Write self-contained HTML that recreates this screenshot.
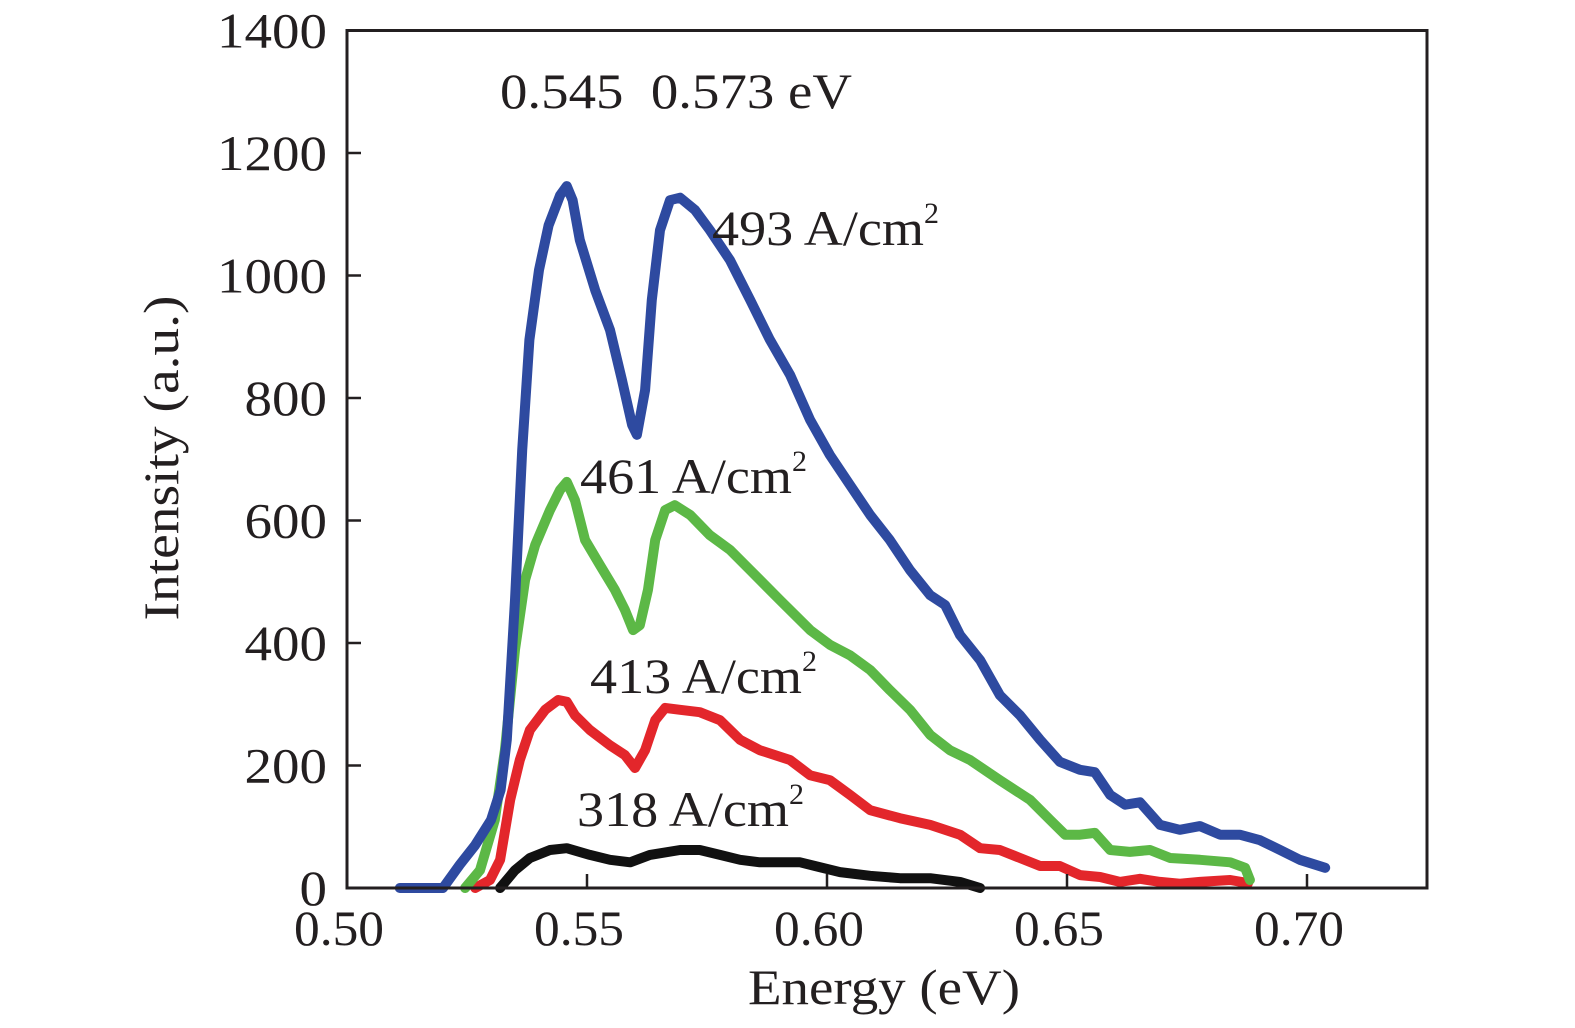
<!DOCTYPE html>
<html><head><meta charset="utf-8"><style>
html,body{margin:0;padding:0;background:#fff;}
svg{display:block;font-family:"Liberation Serif",serif;}
</style></head><body>
<svg id="chart" width="1575" height="1028" viewBox="0 0 1575 1028">
<g id="series"></g>
<rect x="347" y="30.5" width="1080" height="857.5" fill="none" stroke="#231f20" stroke-width="3"/>
<g id="axes"></g>
<text x="178" y="458" font-size="50" text-anchor="middle" textLength="325" lengthAdjust="spacingAndGlyphs" transform="rotate(-90 178 458)" fill="#231f20">Intensity (a.u.)</text>
<text x="884" y="1004" font-size="50" text-anchor="middle" textLength="272" lengthAdjust="spacingAndGlyphs" fill="#231f20">Energy (eV)</text>
<text x="500" y="108" font-size="50" textLength="352" lengthAdjust="spacingAndGlyphs" xml:space="preserve" fill="#231f20">0.545  0.573 eV</text>
<text x="712" y="245" font-size="50" fill="#231f20"><tspan textLength="212" lengthAdjust="spacingAndGlyphs">493 A/cm</tspan><tspan font-size="30" dy="-22">2</tspan></text>
<text x="580" y="493" font-size="50" fill="#231f20"><tspan textLength="212" lengthAdjust="spacingAndGlyphs">461 A/cm</tspan><tspan font-size="30" dy="-22">2</tspan></text>
<text x="590" y="693" font-size="50" fill="#231f20"><tspan textLength="212" lengthAdjust="spacingAndGlyphs">413 A/cm</tspan><tspan font-size="30" dy="-22">2</tspan></text>
<text x="577" y="826" font-size="50" fill="#231f20"><tspan textLength="212" lengthAdjust="spacingAndGlyphs">318 A/cm</tspan><tspan font-size="30" dy="-22">2</tspan></text>
</svg>
<script>
const xTicks=[0.50,0.55,0.60,0.65,0.70];
const xTickLabels=["0.50","0.55","0.60","0.65","0.70"];
const yTicks=[0,200,400,600,800,1000,1200,1400];
const yTickLabels=["0","200","400","600","800","1000","1200","1400"];
const blueE=[0.511,0.520,0.5235,0.5267,0.530,0.532,0.5333,0.535,0.5365,0.538,0.540,0.542,0.5444,0.5458,0.547,0.5485,0.5517,0.5548,0.5573,0.5594,0.5604,0.5621,0.5635,0.5652,0.5673,0.5694,0.5725,0.5756,0.5798,0.584,0.5881,0.5923,0.5965,0.6006,0.6048,0.609,0.6131,0.6173,0.6215,0.6246,0.6277,0.6319,0.636,0.6402,0.6444,0.6485,0.6527,0.6558,0.659,0.6621,0.6652,0.6694,0.6735,0.6777,0.6819,0.686,0.6902,0.6944,0.6985,0.7038];
const blueI=[0,0,38,70,111,160,242,470,715,895,1009,1082,1131,1146,1123,1058,976,911,829,756,740,813,960,1074,1123,1127,1107,1074,1025,960,895,838,764,707,658,609,568,519,478,462,413,372,315,282,242,206,193,189,152,136,140,103,95,101,87,87,78,62,46,33];
const greenE=[0.5246,0.5277,0.5308,0.5329,0.535,0.5371,0.5392,0.5423,0.5444,0.5458,0.5475,0.5496,0.5527,0.5558,0.5579,0.5596,0.561,0.5627,0.5642,0.5663,0.5683,0.5715,0.5756,0.5798,0.584,0.5902,0.5965,0.6006,0.6048,0.609,0.6131,0.6173,0.6215,0.6256,0.6298,0.636,0.6423,0.6465,0.6496,0.6527,0.6558,0.659,0.6631,0.6673,0.6715,0.6777,0.684,0.6871,0.6881];
const greenI=[0,29,111,225,389,503,560,617,650,663,633,568,527,487,454,421,429,487,568,617,625,609,576,552,519,470,421,397,380,356,323,291,250,225,209,176,144,111,87,87,90,62,59,62,49,46,42,33,13];
const redE=[0.5267,0.5298,0.5319,0.534,0.536,0.5381,0.5413,0.544,0.5458,0.5475,0.5506,0.5548,0.5579,0.56,0.5621,0.5642,0.5663,0.5694,0.5735,0.5777,0.5819,0.586,0.5923,0.5965,0.6006,0.6048,0.609,0.6152,0.6215,0.6277,0.6319,0.636,0.6402,0.6444,0.6485,0.6527,0.6569,0.661,0.6652,0.6694,0.6735,0.6777,0.684,0.6877];
const redI=[0,13,46,144,209,258,291,307,304,282,258,233,217,196,225,274,294,291,287,274,242,225,209,184,176,152,127,114,103,87,65,62,49,36,36,21,18,10,15,10,7,10,13,8];
const blackE=[0.5319,0.535,0.5381,0.5423,0.5458,0.5506,0.5548,0.559,0.5631,0.5694,0.5735,0.5777,0.5819,0.586,0.5902,0.5944,0.5975,0.6027,0.609,0.6152,0.6215,0.6277,0.6319];
const blackI=[0,29,49,62,65,54,46,42,54,62,62,54,46,42,42,42,36,26,20,16,16,10,0];

const NS="http://www.w3.org/2000/svg";
const X0=347,X1=1307,Y0=888,Y1=30.5;
function xs(e){return X0+(e-0.50)/(0.70-0.50)*(X1-X0);}
function ys(v){return Y0-v/1400*(Y0-Y1);}
const axes=document.getElementById('axes');
xTicks.forEach((t,i)=>{
  const l=document.createElementNS(NS,'line');
  l.setAttribute('x1',xs(t));l.setAttribute('x2',xs(t));l.setAttribute('y1',Y0);l.setAttribute('y2',Y0-14);
  l.setAttribute('stroke','#231f20');l.setAttribute('stroke-width','2.5');
  
  
  axes.appendChild(l);
  const tx=document.createElementNS(NS,'text');
  tx.setAttribute('x',xs(t)-45-8);tx.setAttribute('y',945);tx.setAttribute('font-size','50');
  tx.setAttribute('textLength','90');tx.setAttribute('lengthAdjust','spacingAndGlyphs');tx.setAttribute('fill','#231f20');
  tx.textContent=xTickLabels[i];
  
  
  axes.appendChild(tx);
});
yTicks.forEach((t,i)=>{
  const l=document.createElementNS(NS,'line');
  l.setAttribute('x1',X0);l.setAttribute('x2',X0+14);l.setAttribute('y1',ys(t));l.setAttribute('y2',ys(t));
  l.setAttribute('stroke','#231f20');l.setAttribute('stroke-width','2.5');
  
  
  axes.appendChild(l);
  const w=27.5*yTickLabels[i].length;
  const tx=document.createElementNS(NS,'text');
  tx.setAttribute('x',327-w);tx.setAttribute('y',ys(t)+17);tx.setAttribute('font-size','50');
  tx.setAttribute('textLength',w);tx.setAttribute('lengthAdjust','spacingAndGlyphs');tx.setAttribute('fill','#231f20');
  tx.textContent=yTickLabels[i];
  
  
  axes.appendChild(tx);
});
const g=document.getElementById('series');
function draw(E,I,color,name){
  const p=document.createElementNS(NS,'polyline');
  p.setAttribute('points',E.map((e,i)=>xs(e).toFixed(1)+','+ys(I[i]).toFixed(1)).join(' '));
  p.setAttribute('fill','none');p.setAttribute('stroke',color);p.setAttribute('stroke-width','10');
  p.setAttribute('stroke-linejoin','round');p.setAttribute('stroke-linecap','round');
  
  
  g.appendChild(p);
}
draw(blackE,blackI,'#111111','series-318');
draw(redE,redI,'#e3262b','series-413');
draw(greenE,greenI,'#5cb846','series-461');
draw(blueE,blueI,'#2e4aa0','series-493');
</script>
</body></html>
